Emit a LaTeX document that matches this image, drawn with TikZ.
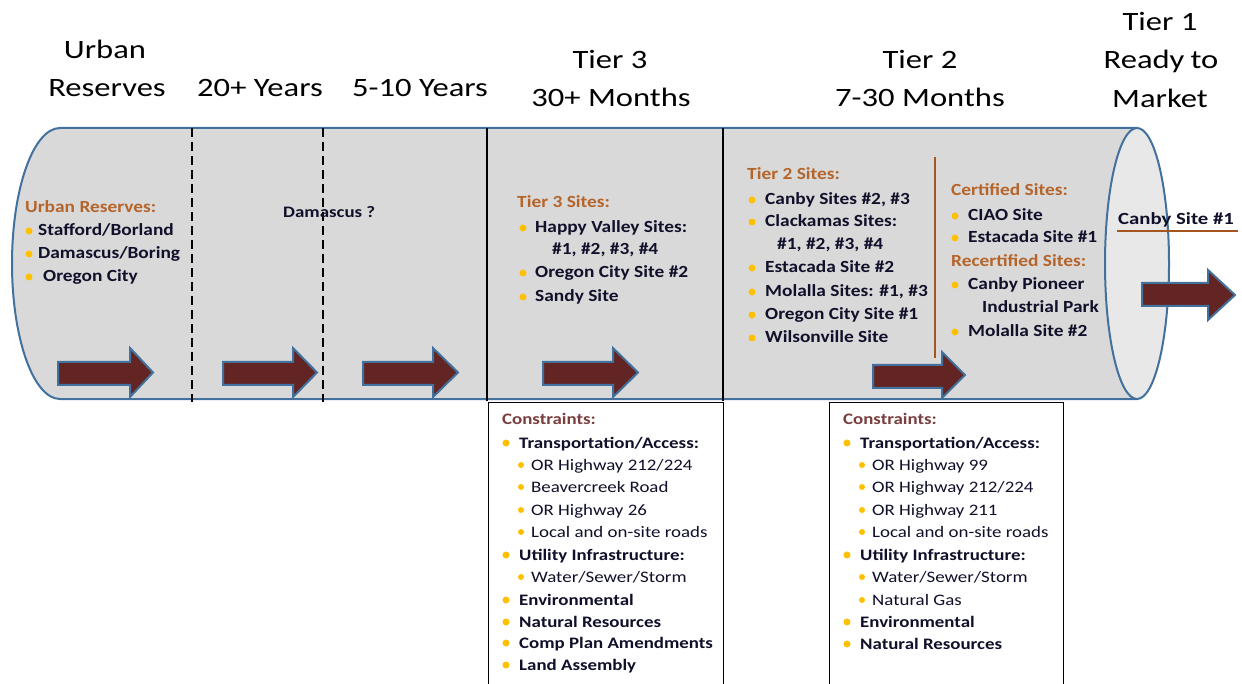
\documentclass[tikz,border=0pt]{standalone}
\usepackage{fontspec}
\setmainfont{Carlito}
\definecolor{bodyc}{HTML}{D9D9D9}
\definecolor{endc}{HTML}{E8E8E8}
\definecolor{edgec}{HTML}{41719C}
\definecolor{arrc}{HTML}{632523}
\definecolor{titlec}{HTML}{B5642A}
\definecolor{linec}{HTML}{A5561E}
\definecolor{conc}{HTML}{7A3E3E}
\definecolor{txtc}{HTML}{10102A}
\definecolor{bulc}{HTML}{FFC000}
\tikzset{
  hdr/.style={font=\fontsize{26.5}{30}\selectfont, text=black, anchor=base, inner sep=0pt},
  ttl/.style={font=\fontsize{17}{20}\selectfont\bfseries, text=titlec, anchor=base west, inner sep=0pt},
  itm/.style={font=\fontsize{17}{20}\selectfont\bfseries, text=txtc, anchor=base west, inner sep=0pt},
  ctl/.style={font=\fontsize{16}{19}\selectfont\bfseries, text=conc, anchor=base west, inner sep=0pt},
  ctop/.style={font=\fontsize{16}{19}\selectfont\bfseries, text=txtc, anchor=base west, inner sep=0pt},
  csub/.style={font=\fontsize{16}{19}\selectfont, text=txtc, anchor=base west, inner sep=0pt},
  bul/.style={circle, fill=bulc, inner sep=0pt, minimum size=7pt},
  bulsub/.style={circle, fill=bulc, inner sep=0pt, minimum size=6pt},
  bigarr/.style={fill=arrc, draw=edgec, line width=2pt, line join=miter},
  cbox/.style={draw=black, line width=1.3pt, fill=white, anchor=north west, inner sep=0pt},
  dashdiv/.style={draw=black, line width=2.5pt, dash pattern=on 9pt off 5pt},
  soliddiv/.style={draw=black, line width=2pt},
}
\newcommand\hs[1]{\scalebox{1.23}[1]{#1}}
\newcommand\ws[2]{\scalebox{#1}[1]{#2}}
\def\bs{1.14}
% #1 name, #2 bullet style, #3 text style, #4 bullet x, #5 text x, #6 baseline y, #7 text
\newcommand\bitem[7]{\node[#2] (#1b) at (#4,#6-5) {}; \node[#3] (#1) at (#5,#6) {\scalebox{\bs}[1]{#7}};}
% arrow: #1 x0, #2 head base x, #3 tip x, #4 body top, #5 body bottom, #6 head top, #7 head bottom
\newcommand\fatarrow[7]{\draw[bigarr] (#1,#4) -- (#2,#4) -- (#2,#6) -- (#3,{(#6+#7)/2}) -- (#2,#7) -- (#2,#5) -- (#1,#5) -- cycle;}
\begin{document}
\begin{tikzpicture}[x=1pt,y=-1pt]
\useasboundingbox (0,0) rectangle (1242,684);
\clip (0,0) rectangle (1242,684);
% cylinder body
\fill[bodyc] (60,128) -- (1137,128) -- (1137,399) -- (60,399)
   arc[start angle=270, end angle=90, x radius=48pt, y radius=135.5pt] -- cycle;
\draw[edgec, line width=2pt] (1137,128) -- (60,128)
   arc[start angle=90, end angle=270, x radius=48pt, y radius=135.5pt] -- (1137,399);
\draw[edgec, line width=2pt, fill=endc] (1137,263.5) ellipse[x radius=32pt, y radius=135.5pt];
% constraint boxes
\node[cbox, minimum width=235pt, minimum height=300pt] (box3) at (488,402) {};
\node[cbox, minimum width=234pt, minimum height=300pt] (box2) at (829,402) {};
% dividers
\draw[dashdiv] (192,128) -- (192,402);
\draw[dashdiv] (323,128) -- (323,402);
\draw[soliddiv] (487,128) -- (487,401);
\draw[soliddiv] (723,128) -- (723,401);
\draw[linec, line width=2.5pt] (935,157) -- (935,358);
% arrows
\fatarrow{58}{130}{153}{362}{385}{348}{397}
\fatarrow{223}{293}{317}{362}{385}{348}{397}
\fatarrow{363}{433}{458}{362}{385}{348}{397}
\fatarrow{543}{613}{638}{362}{385}{348}{397}
\fatarrow{873}{942}{965}{365}{388}{352}{398}
\fatarrow{1142}{1208}{1235}{283}{306}{270}{320}
% headers
\node[hdr] (h1a) at (105,59) {\hs{Urban}};
\node[hdr] (h1b) at (107,97) {\hs{Reserves}};
\node[hdr] (h2) at (260,97) {\hs{20+ Years}};
\node[hdr] (h3) at (420,97) {\hs{5-10 Years}};
\node[hdr] (h4a) at (610,69) {\hs{Tier 3}};
\node[hdr] (h4b) at (611,107) {\hs{30+ Months}};
\node[hdr] (h5a) at (920,69) {\hs{Tier 2}};
\node[hdr] (h5b) at (920,107) {\hs{7-30 Months}};
\node[hdr] (h6a) at (1160,31) {\hs{Tier 1}};
\node[hdr] (h6b) at (1161,69) {\hs{Ready\kern-1pt\ to}};
\node[hdr] (h6c) at (1160,108) {\hs{Market}};
% urban reserves
\node[ttl] (urt) at (25,213) {\ws{\bs}{Urban Reserves:}};
\bitem{ur1}{bul}{itm}{29}{38}{236}{Stafford/Borland}
\bitem{ur2}{bul}{itm}{29}{38}{259}{Damascus/Boring}
\bitem{ur3}{bul}{itm}{29}{43}{282}{Oregon City}
\node[itm, font=\fontsize{16}{19}\selectfont\bfseries] (dam) at (283,218) {\ws{1.18}{Damascus ?}};
% tier 3
\node[ttl] (t3t) at (517,208) {\ws{\bs}{Tier 3 Sites:}};
\bitem{t31}{bul}{itm}{523}{535}{233}{Happy Valley Sites:}
\node[itm] (t31c) at (552,255) {\ws{\bs}{\#1, \#2, \#3, \#4}};
\bitem{t32}{bul}{itm}{523}{535}{278}{Oregon City Site \#2}
\bitem{t33}{bul}{itm}{523}{535}{302}{Sandy Site}
% tier 2
\node[ttl] (t2t) at (747,180) {\ws{\bs}{Tier 2 Sites:}};
\bitem{t21}{bul}{itm}{752}{765}{205}{Canby Sites \#2, \#3}
\bitem{t22}{bul}{itm}{752}{765}{227}{Clackamas Sites:}
\node[itm] (t22c) at (777,250) {\ws{\bs}{\#1, \#2, \#3, \#4}};
\bitem{t23}{bul}{itm}{752}{765}{273}{Estacada Site \#2}
\bitem{t24}{bul}{itm}{752}{765}{297}{Molalla Sites: \#1, \#3}
\bitem{t25}{bul}{itm}{752}{765}{320}{Oregon City Site \#1}
\bitem{t26}{bul}{itm}{752}{765}{343}{Wilsonville Site}
% certified
\node[ttl] (cet) at (951,196) {\ws{\bs}{Certified Sites:}};
\bitem{ce1}{bul}{itm}{955}{968}{221}{CIAO Site}
\bitem{ce2}{bul}{itm}{955}{968}{243}{Estacada Site \#1}
\node[ttl] (ret) at (951,267) {\ws{\bs}{Recertified Sites:}};
\bitem{re1}{bul}{itm}{955}{968}{290}{Canby Pioneer}
\node[itm] (re1c) at (982,313) {\ws{\bs}{Industrial Park}};
\bitem{re2}{bul}{itm}{955}{968}{337}{Molalla Site \#2}
% tier 1
\node[itm] (canby) at (1118,225) {\ws{1.22}{Canby Site \#1}};
\draw[linec, line width=2pt] (1117,231) -- (1238,231);
% constraints
\def\bs{1.18}
\node[ctl] (c3t) at (502,424) {\ws{\bs}{Constraints:}};
\bitem{c31}{bul}{ctop}{506}{519}{448}{Transportation/Access:}
\bitem{c32}{bulsub}{csub}{521}{531}{470}{OR Highway 212/224}
\bitem{c33}{bulsub}{csub}{521}{531}{492}{Beavercreek Road}
\bitem{c34}{bulsub}{csub}{521}{531}{515}{OR Highway 26}
\bitem{c35}{bulsub}{csub}{521}{531}{537}{Local and on-site roads}
\bitem{c36}{bul}{ctop}{506}{519}{560}{Utility Infrastructure:}
\bitem{c37}{bulsub}{csub}{521}{531}{582}{Water/Sewer/Storm}
\bitem{c38}{bul}{ctop}{506}{519}{605}{Environmental}
\bitem{c39}{bul}{ctop}{506}{519}{627}{Natural Resources}
\bitem{c310}{bul}{ctop}{506}{519}{648}{Comp Plan Amendments}
\bitem{c311}{bul}{ctop}{506}{519}{670}{Land Assembly}
\node[ctl] (c2t) at (843,424) {\ws{\bs}{Constraints:}};
\bitem{c21}{bul}{ctop}{847}{860}{448}{Transportation/Access:}
\bitem{c22}{bulsub}{csub}{862}{872}{470}{OR Highway 99}
\bitem{c23}{bulsub}{csub}{862}{872}{492}{OR Highway 212/224}
\bitem{c24}{bulsub}{csub}{862}{872}{515}{OR Highway 211}
\bitem{c25}{bulsub}{csub}{862}{872}{537}{Local and on-site roads}
\bitem{c26}{bul}{ctop}{847}{860}{560}{Utility Infrastructure:}
\bitem{c27}{bulsub}{csub}{862}{872}{582}{Water/Sewer/Storm}
\bitem{c28}{bulsub}{csub}{862}{872}{605}{Natural Gas}
\bitem{c29}{bul}{ctop}{847}{860}{627}{Environmental}
\bitem{c210}{bul}{ctop}{847}{860}{649}{Natural Resources}
\end{tikzpicture}
\end{document}
